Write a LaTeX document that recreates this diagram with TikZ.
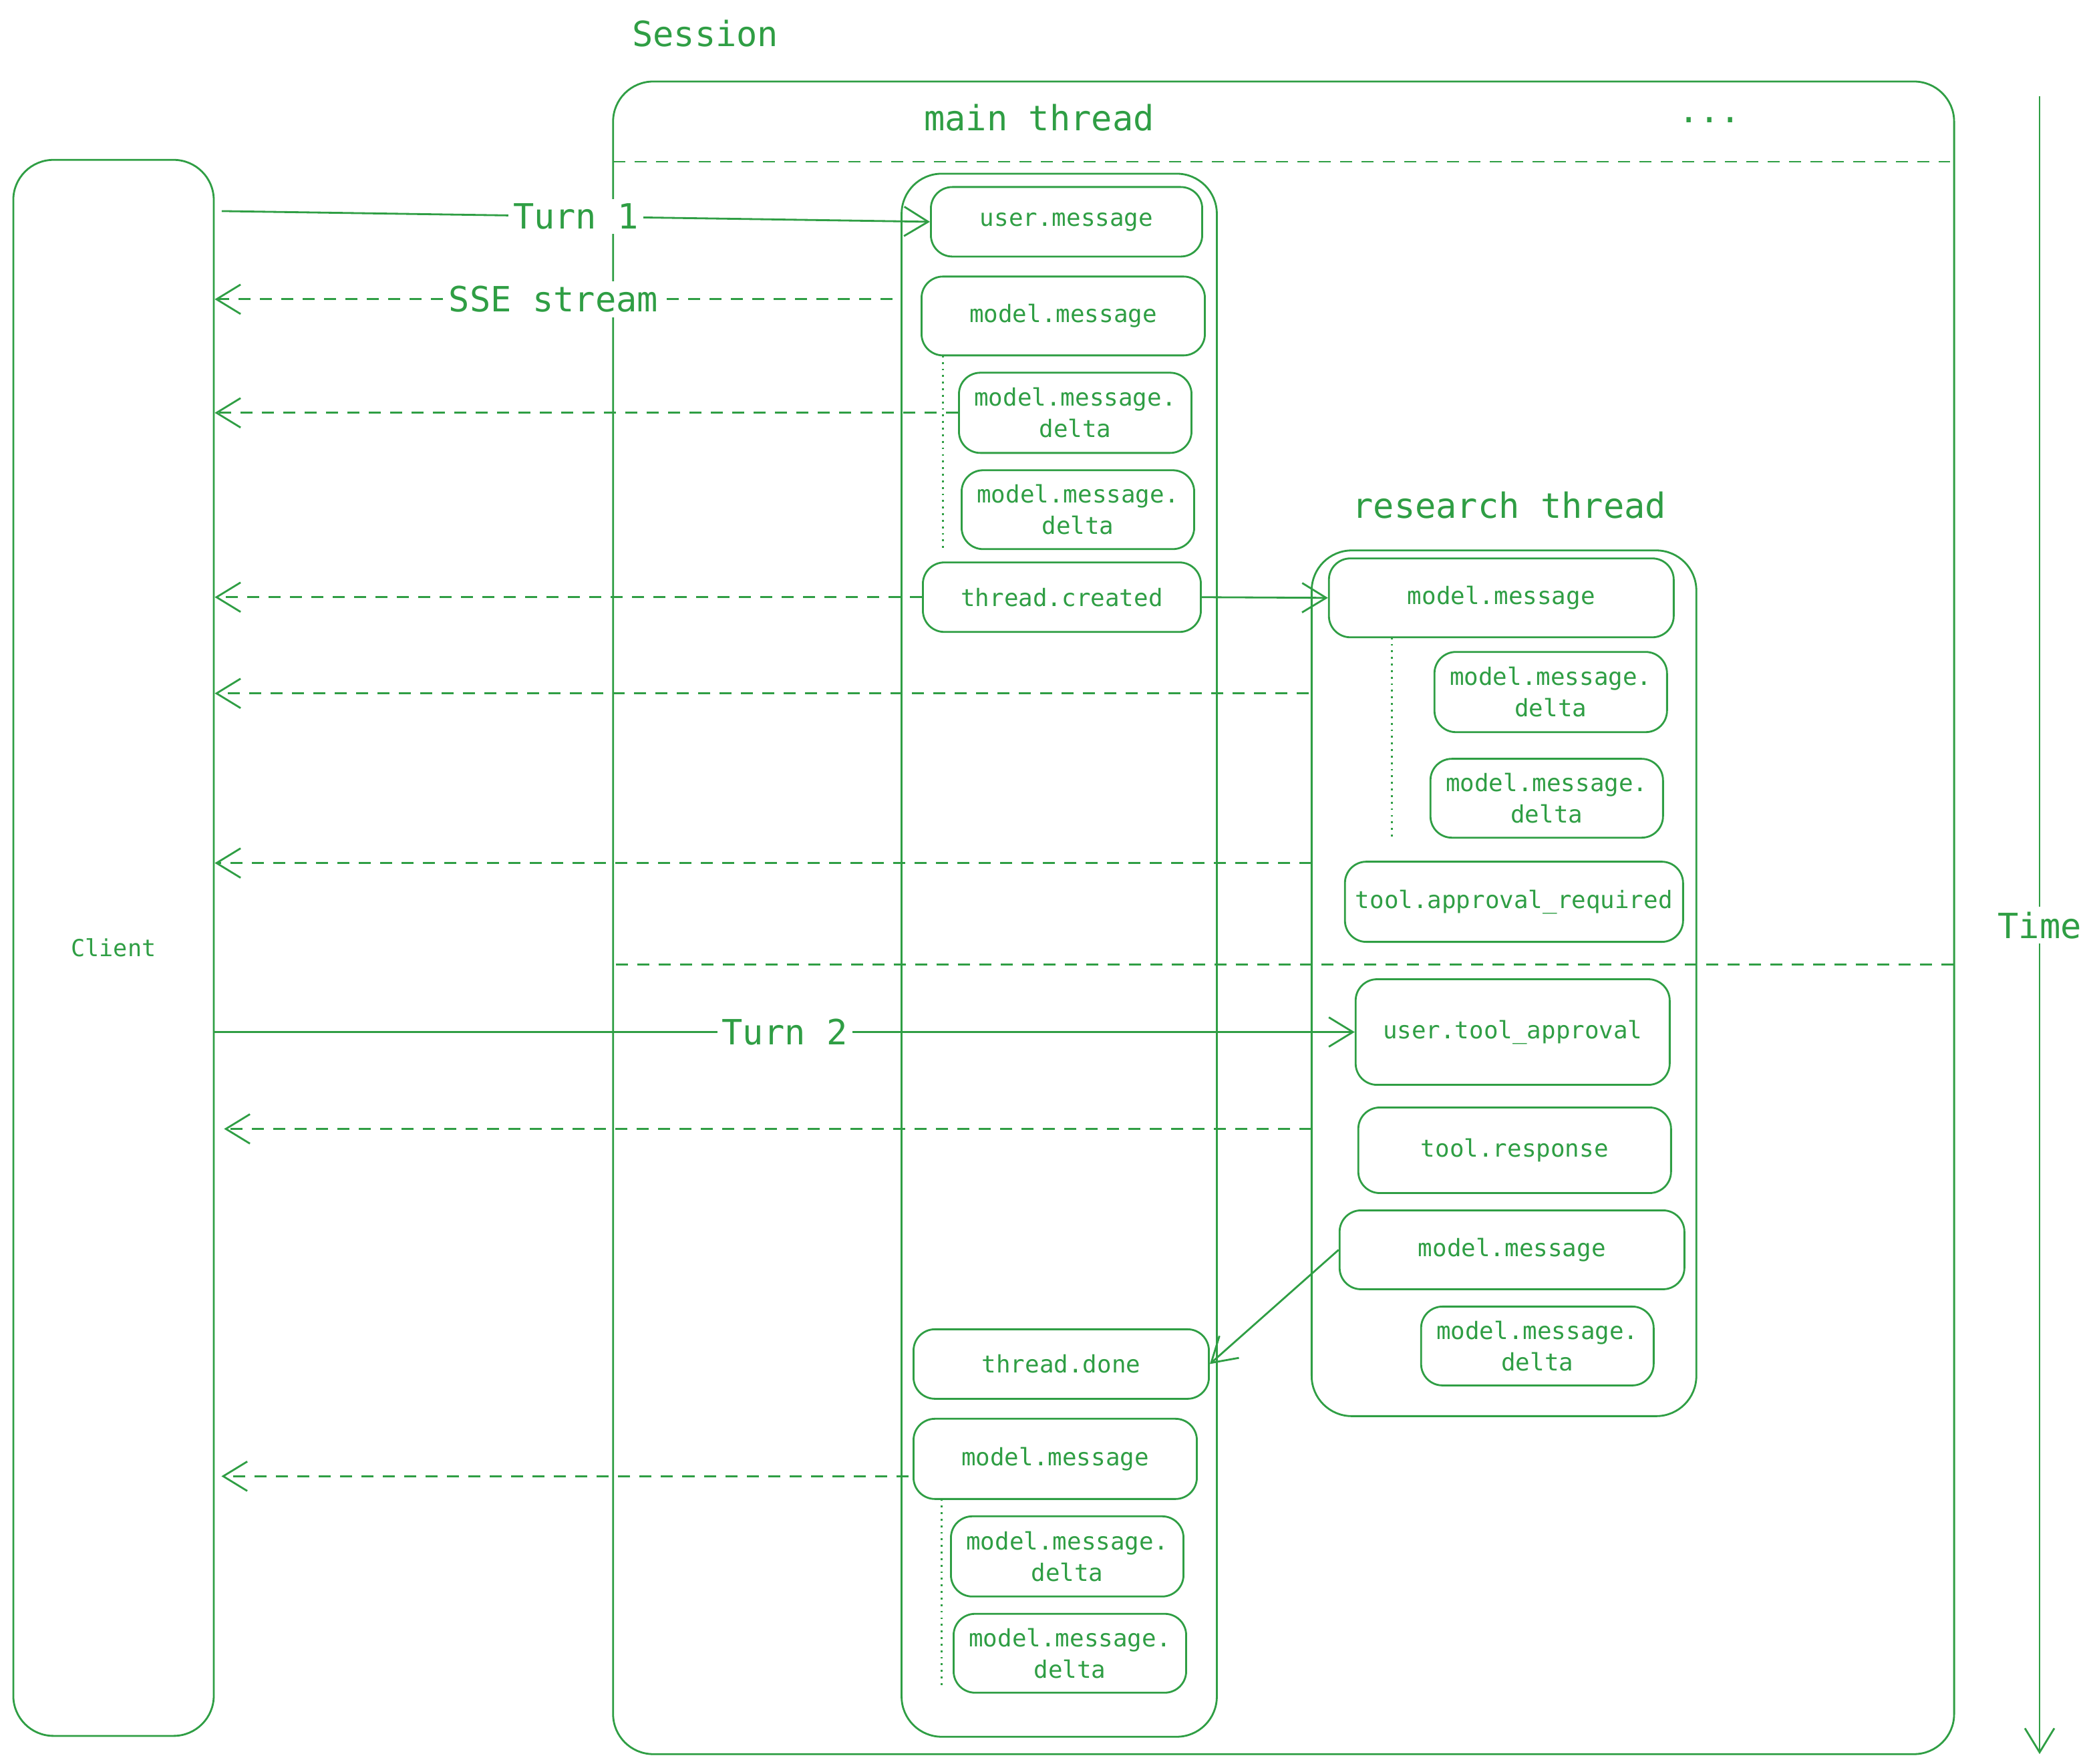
\documentclass[tikz,border=0pt]{standalone}
\usepackage{fontspec}
\setmonofont{DejaVu Sans Mono}
\usetikzlibrary{arrows.meta,positioning}
\definecolor{exgreen}{HTML}{2F9E44}
\tikzset{
  msg/.style={draw=exgreen,rounded corners=1.6mm,inner sep=0pt,align=center,
    text=exgreen,font=\ttfamily\fontsize{5.1}{6.7}\selectfont},
  title/.style={text=exgreen,font=\ttfamily\fontsize{7.4}{9}\selectfont},
  flow/.style={draw=exgreen,-{Straight Barb[length=1.8mm,width=2.2mm]}},
  sse/.style={flow,dashed,dash pattern=on 0.9mm off 0.7mm},
  sep/.style={draw=exgreen,dashed,dash pattern=on 0.9mm off 0.7mm},
  lane/.style={draw=exgreen,rounded corners=3mm},
  fill label/.style={fill=white,inner sep=1pt,title}
}
\begin{document}
\begin{tikzpicture}[x=0.01cm,y=-0.01cm]
\useasboundingbox (0,0) rectangle (1564,1320);
% frames
\draw[lane] (459,61) rectangle (1463,1313);
\node[title] at (528,25) {Session};
\node[title] at (778,88) {main thread};
\node[title] at (1280,90) {...};
\draw[sep] (459,121) -- (1460,121);
\draw[sep] (461,722) -- (1463,722);
\node[msg,rounded corners=3mm,minimum width=1.50cm,minimum height=11.79cm,
  font=\ttfamily\fontsize{5}{6}\selectfont] (client) at (85,709.5) {Client};
\draw[lane] (675,130) rectangle (911,1300);
\node[title] at (1130,378) {research thread};
\draw[lane] (982,412) rectangle (1270,1060);
% main thread events
\node[msg,minimum width=2.03cm,minimum height=0.52cm] (user) at (798.5,166) {user.message};
\node[msg,minimum width=2.12cm,minimum height=0.59cm] (mm1) at (796,236.5) {model.message};
\node[msg,minimum width=1.74cm,minimum height=0.60cm] (d1) at (805,309) {model.message.\\delta};
\node[msg,minimum width=1.74cm,minimum height=0.59cm] (d2) at (807,381.5) {model.message.\\delta};
\node[msg,minimum width=2.08cm,minimum height=0.52cm] (tc) at (795,447) {thread.created};
\node[msg,minimum width=2.21cm,minimum height=0.52cm] (td) at (794.5,1021) {thread.done};
\node[msg,minimum width=2.12cm,minimum height=0.60cm] (mm2) at (790,1092) {model.message};
\node[msg,minimum width=1.74cm,minimum height=0.60cm] (d3) at (799,1165) {model.message.\\delta};
\node[msg,minimum width=1.74cm,minimum height=0.59cm] (d4) at (801,1237.5) {model.message.\\delta};
% research thread events
\node[msg,minimum width=2.58cm,minimum height=0.59cm] (rm1) at (1124,447.5) {model.message};
\node[msg,minimum width=1.74cm,minimum height=0.60cm] (rd1) at (1161,518) {model.message.\\delta};
\node[msg,minimum width=1.74cm,minimum height=0.59cm] (rd2) at (1158,597.5) {model.message.\\delta};
\node[msg,minimum width=2.53cm,minimum height=0.60cm] (tar) at (1133.5,675) {tool.approval\_required};
\node[msg,minimum width=2.35cm,minimum height=0.79cm] (uta) at (1132.5,772.5) {user.tool\_approval};
\node[msg,minimum width=2.34cm,minimum height=0.64cm] (tr) at (1134,861) {tool.response};
\node[msg,minimum width=2.58cm,minimum height=0.59cm] (rm2) at (1132,935.5) {model.message};
\node[msg,minimum width=1.74cm,minimum height=0.59cm] (rd3) at (1151,1007.5) {model.message.\\delta};
% delta guides
\draw[exgreen,densely dotted] (706,266) -- (706,411);
\draw[exgreen,densely dotted] (1042,477) -- (1042,627);
\draw[exgreen,densely dotted] (705,1122) -- (705,1262);
% turns
\coordinate (turn1) at (166,158);
\draw[flow] (turn1) -- node[fill label]{Turn 1} (user.west);
\draw[flow] (client.east |- uta.west) -- node[fill label,pos=0.5]{Turn 2} (uta.west);
% stream back to client
\coordinate (s1) at (668,224);
\coordinate (s4) at (980,519);
\coordinate (s5) at (982,646);
\coordinate (s6) at (982,845);
\coordinate (s7) at (680,1105);
\draw[sse] (s1) -- node[fill label,pos=0.5]{SSE stream} (s1 -| client.east);
\draw[sse] (d1.west) -- (d1.west -| client.east);
\draw[sse] (tc.west) -- (tc.west -| client.east);
\draw[sse] (s4) -- (s4 -| client.east);
\draw[sse] (s5) -- (s5 -| client.east);
\draw[sse] (s6) -- ([xshift=0.07cm]s6 -| client.east);
\draw[sse] (s7) -- ([xshift=0.05cm]s7 -| client.east);
% thread links
\draw[flow] (tc.east) -- (rm1.west);
\draw[flow] (rm2.west) -- (td.east);
% time axis
\coordinate (t0) at (1527,72);
\coordinate (t1) at (1527,1313);
\draw[flow] (t0) -- node[fill label]{Time} (t1);
\end{tikzpicture}
\end{document}
